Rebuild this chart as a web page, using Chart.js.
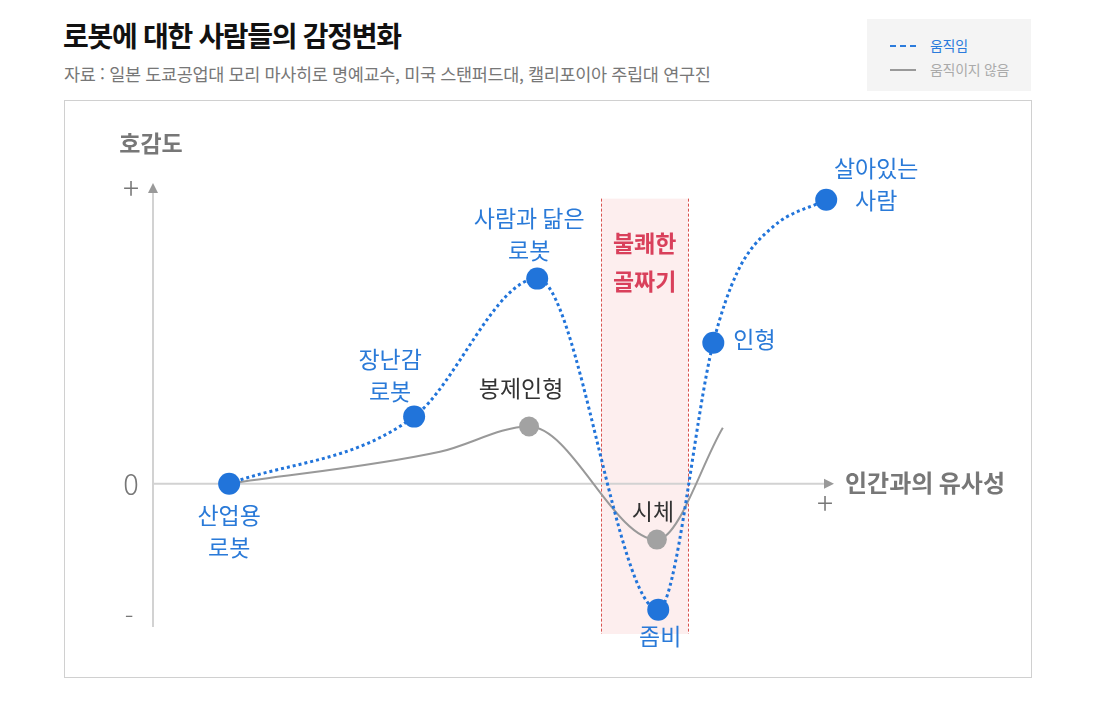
<!DOCTYPE html>
<html lang="ko">
<head>
<meta charset="utf-8">
<script src="https://cdn.jsdelivr.net/npm/chart.js@4.4.0/dist/chart.umd.min.js"></script>
<style>
  html, body { margin: 0; padding: 0; background: #fff; }
  body { width: 1096px; height: 703px; position: relative; overflow: hidden;
         font-family: "Noto Sans CJK KR", "Noto Sans", sans-serif; }
  #title { position: absolute; left: 63px; top: 15px; font-size: 28px; font-weight: 700;
           color: #111; letter-spacing: -1.3px; }
  #source { position: absolute; left: 64px; top: 61px; font-size: 17.5px; color: #777;
            letter-spacing: -0.35px; }
  #legend { position: absolute; left: 867px; top: 19px; width: 164px; height: 72px; background: #f4f4f4; }
  .item { position: absolute; left: 23px; font-size: 14px; letter-spacing: -0.3px; }
  .item .swatch { position: absolute; left: 0; top: 10px; width: 26px; height: 0; }
  .item span { position: absolute; left: 40px; top: 0; white-space: nowrap; }
  #frame { position: absolute; left: 64px; top: 100px; width: 966px; height: 576px; border: 1px solid #d0d0d0; }
  canvas { position: absolute; left: 0; top: 0; }
</style>
</head>
<body>
<div id="title">로봇에 대한 사람들의 감정변화</div>
<div id="source">자료 : 일본 도쿄공업대 모리 마사히로 명예교수, 미국 스탠퍼드대, 캘리포이아 주립대 연구진</div>
<div id="legend">
  <div class="item" style="top:16px;color:#2b7bdc;"><div class="swatch" style="border-top:2px dashed #2b7bdc;"></div><span>움직임</span></div>
  <div class="item" style="top:40px;color:#aaa;"><div class="swatch" style="border-top:2px solid #999;"></div><span>움직이지 않음</span></div>
</div>
<div id="frame"></div>
<canvas id="chart" width="1096" height="703"></canvas>
<script>
// 인간과의 유사성 (0~100) / 호감도 (-50~100)
// points without a label are extra readings along the curve
const movingX = [11.2, 38.4, 56.5, 74.3, 82.4, 85.9, 91.2, 99.0];
const movingY = [0, 22.3, 68.2, -41.9, 46.9, 70.2, 85.5, 94.4];
const movingLabels = [["산업용", "로봇"], ["장난감", "로봇"], ["사람과 닮은", "로봇"], ["좀비"], ["인형"], null, null, ["살아있는", "사람"]];

const stillX = [11.2, 42.2, 55.3, 74.1, 83.8];
const stillY = [0, 10.6, 19.0, -18.6, 18.6];
const stillLabels = [null, null, ["봉제인형"], ["시체"], null];

const valleyX = [65.9, 78.7];
const valleyTop = 94.8;
const valleyLabel = ["불쾌한", "골짜기"];

const yTicks = ["+", "0", "-"];
const yTitle = "호감도";
const xTitle = "인간과의 유사성";

const BLUE = "#2174da";
const GRAY = "#a2a2a2";
const FONT = '"Noto Sans CJK KR", "Noto Sans", sans-serif';

// where each label sits relative to its point: [dx, first line dy, align]
const movingOffsets = [[0, 32, "center"], [-24, -57, "center"], [-8, -60, "center"],
                       [2, 27, "center"], [20, -3, "left"], null, null, [50, -32, "center"]];
const stillOffsets = [null, null, [-8, -38, "center"], [-4, -28, "center"], null];

const decor = {
  id: "decor",
  beforeDatasetsDraw(chart) {
    const { ctx, scales: { x, y } } = chart;
    const x0 = x.getPixelForValue(0), y0 = y.getPixelForValue(0);
    const yTop = y.getPixelForValue(100), yBot = y.getPixelForValue(-50);
    const xEnd = x.getPixelForValue(100);
    ctx.save();

    // uncanny valley band
    const bl = x.getPixelForValue(valleyX[0]), br = x.getPixelForValue(valleyX[1]);
    const bt = y.getPixelForValue(valleyTop);
    ctx.fillStyle = "#fdeeee";
    ctx.fillRect(bl, bt, br - bl, yBot - bt);
    ctx.strokeStyle = "#d9534f";
    ctx.lineWidth = 1;
    ctx.setLineDash([3, 2]);
    [bl, br].forEach((px) => {
      ctx.beginPath();
      ctx.moveTo(Math.round(px) + 0.5, bt);
      ctx.lineTo(Math.round(px) + 0.5, yBot);
      ctx.stroke();
    });
    ctx.setLineDash([]);

    // axes
    ctx.strokeStyle = "#d2d2d2";
    ctx.lineWidth = 2;
    ctx.beginPath();
    ctx.moveTo(x0, yBot - 7);
    ctx.lineTo(x0, yTop + 6);
    ctx.moveTo(x0, y0);
    ctx.lineTo(xEnd - 8, y0);
    ctx.stroke();
    ctx.fillStyle = "#999";
    ctx.beginPath();
    ctx.moveTo(x0, yTop);
    ctx.lineTo(x0 - 5, yTop + 10);
    ctx.lineTo(x0 + 5, yTop + 10);
    ctx.closePath();
    ctx.fill();
    ctx.beginPath();
    ctx.moveTo(xEnd + 1, y0);
    ctx.lineTo(xEnd - 9, y0 - 5);
    ctx.lineTo(xEnd - 9, y0 + 5);
    ctx.closePath();
    ctx.fill();

    // axis texts
    ctx.textBaseline = "middle";
    ctx.textAlign = "center";
    ctx.fillStyle = "#777";
    ctx.font = "300 30px " + FONT;
    ctx.fillText(yTicks[0], x0 - 22, yTop + 5);
    ctx.font = "300 29px " + FONT;
    ctx.fillText(yTicks[1], x0 - 22, y0);
    ctx.font = "300 26px " + FONT;
    ctx.fillText(yTicks[2], x0 - 24, yBot - 18);
    ctx.font = "300 30px " + FONT;
    ctx.fillText("+", xEnd - 8, y0 + 19);
    ctx.font = "700 23px " + FONT;
    ctx.fillText(yTitle, x0 - 2, yTop - 40);
    ctx.font = "700 24px " + FONT;
    ctx.textAlign = "left";
    ctx.fillText(xTitle, xEnd + 12, y0 - 1);

    ctx.fillStyle = "#d9405b";
    ctx.textAlign = "center";
    ctx.font = "700 23px " + FONT;
    valleyLabel.forEach((t, i) => ctx.fillText(t, (bl + br) / 2, bt + 45 + i * 38));
    ctx.restore();
  },
  afterDatasetsDraw(chart) {
    const { ctx } = chart;
    ctx.save();
    ctx.textBaseline = "middle";
    ctx.font = "400 23px " + FONT;
    const put = (meta, labels, offsets, color) => {
      ctx.fillStyle = color;
      labels.forEach((lines, i) => {
        if (!lines) return;
        const pt = meta.data[i];
        const [dx, dy, align] = offsets[i];
        ctx.textAlign = align;
        lines.forEach((t, j) => ctx.fillText(t, pt.x + dx, pt.y + dy + j * 32));
      });
    };
    put(chart.getDatasetMeta(0), movingLabels, movingOffsets, "#2a7ad8");
    put(chart.getDatasetMeta(1), stillLabels, stillOffsets, "#333");
    ctx.restore();
  }
};

new Chart(document.getElementById("chart"), {
  type: "scatter",
  data: {
    datasets: [
      {
        label: "움직임",
        data: movingX.map((v, i) => ({ x: v, y: movingY[i] })),
        showLine: true,
        cubicInterpolationMode: "monotone",
        borderColor: BLUE,
        borderWidth: 3,
        borderDash: [3, 3],
        borderCapStyle: "butt",
        pointRadius: movingLabels.map((l) => (l ? 11 : 0)),
        pointBackgroundColor: BLUE,
        pointBorderWidth: 0,
        clip: false,
        order: 1
      },
      {
        label: "움직이지 않음",
        data: stillX.map((v, i) => ({ x: v, y: stillY[i] })),
        showLine: true,
        cubicInterpolationMode: "monotone",
        borderColor: "#999",
        borderWidth: 2,
        pointRadius: stillLabels.map((l) => (l ? 10 : 0)),
        pointBackgroundColor: GRAY,
        pointBorderWidth: 0,
        clip: false,
        order: 2
      }
    ]
  },
  options: {
    responsive: false,
    animation: false,
    events: [],
    layout: { padding: { left: 153, right: 263, top: 183, bottom: 69 } },
    plugins: { legend: { display: false }, tooltip: { enabled: false } },
    scales: {
      x: { type: "linear", min: 0, max: 100, display: false },
      y: { type: "linear", min: -50, max: 100, display: false }
    }
  },
  plugins: [decor]
});
</script>
</body>
</html>
